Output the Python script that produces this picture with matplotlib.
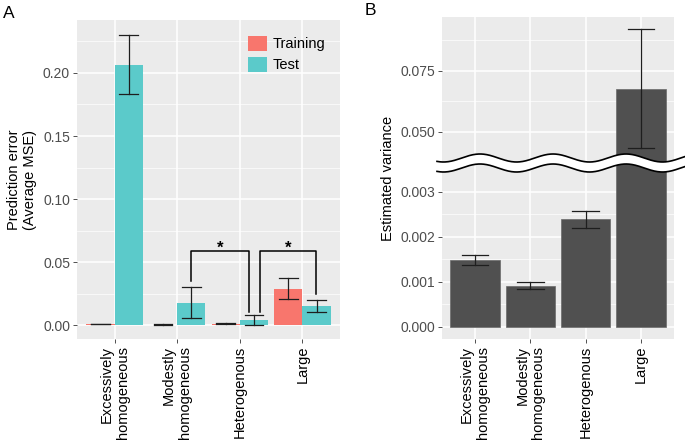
import numpy as np
import matplotlib
matplotlib.use("Agg")
import matplotlib.pyplot as plt
from matplotlib.patches import Patch
from matplotlib.lines import Line2D

plt.rcParams['font.family'] = ['Liberation Sans', 'DejaVu Sans']

CATS = ["Excessively\nhomogeneous", "Modestly\nhomogeneous", "Heterogenous", "Large"]

# panel A: prediction error
train_mse = [0.0009, 0.0005, 0.0012, 0.0287]
train_lo = [0.0007, 0.0004, 0.0010, 0.0206]
train_hi = [0.0011, 0.0006, 0.0014, 0.0373]
test_mse = [0.2063, 0.0175, 0.0040, 0.0150]
test_lo = [0.1836, 0.0053, 0.0005, 0.0103]
test_hi = [0.2300, 0.0304, 0.0082, 0.0200]

# significance brackets: x left/right, leg bottoms, top
brackets = [
    (1.225, 2.145, 0.035, 0.0105),
    (2.32, 3.21, 0.0105, 0.025),
]
bracket_top = 0.0587

# panel B: estimated variance
var_est = [0.00149, 0.00092, 0.00239, 0.0677]
var_lo = [0.00138, 0.00084, 0.00220, 0.0434]
var_hi = [0.00160, 0.00101, 0.00258, 0.0923]
b_ticks = [0.0, 0.001, 0.002, 0.003, 0.050, 0.075]
b_labels = ["0.000", "0.001", "0.002", "0.003", "0.050", "0.075"]
b_minor = [0.0005, 0.0015, 0.0025, 0.0625, 0.0875]

TRAIN_COL = '#F8766D'
TEST_COL = '#5BCACA'
BG = '#EBEBEB'
TICKC = '#4D4D4D'
ERRC = '#1e1e1e'

W, H = 685, 443
fig = plt.figure(figsize=(W / 100, H / 100), dpi=100)


def px_axes(x0, y0, x1, y1):
    return fig.add_axes([x0 / W, 1 - y1 / H, (x1 - x0) / W, (y1 - y0) / H])


def gg_style(ax):
    ax.set_facecolor(BG)
    for s in ax.spines.values():
        s.set_visible(False)
    ax.grid(True, which='major', color='white', lw=1.1)
    ax.grid(True, which='minor', axis='y', color='white', lw=0.5)
    ax.set_axisbelow(True)
    ax.tick_params(which='major', length=3, width=0.6, color='#333333',
                   labelcolor=TICKC, labelsize=10, pad=2)
    ax.tick_params(which='minor', length=0)
    ax.tick_params(axis='x', labelsize=10.5, labelcolor='black')


def errbars(ax, xs, lo, hi, cap):
    for x, l, h in zip(xs, lo, hi):
        ax.plot([x, x], [l, h], color=ERRC, lw=0.9, zorder=4)
        ax.plot([x - cap / 2, x + cap / 2], [l, l], color=ERRC, lw=0.9, zorder=4)
        ax.plot([x - cap / 2, x + cap / 2], [h, h], color=ERRC, lw=0.9, zorder=4)


x = np.arange(len(CATS))

# ---- panel A ----
axA = px_axes(77, 20, 340, 339)
gg_style(axA)
axA.bar(x - 0.225, train_mse, width=0.45, color=TRAIN_COL, zorder=3)
axA.bar(x + 0.225, test_mse, width=0.45, color=TEST_COL, zorder=3)
errbars(axA, x - 0.225, train_lo, train_hi, 0.3)
errbars(axA, x + 0.225, test_lo, test_hi, 0.3)
for xl, xr, yl, yr in brackets:
    axA.plot([xl, xl, xr, xr], [yl, bracket_top, bracket_top, yr], color='black', lw=1.1, zorder=5)
    axA.text((xl + xr) / 2, bracket_top + 0.0022, "*", ha='center', va='center',
             fontsize=12, fontweight='bold', zorder=5)
axA.set_xlim(-0.6, 3.6)
axA.set_ylim(-0.011, 0.242)
axA.set_yticks([0, 0.05, 0.10, 0.15, 0.20])
axA.set_yticklabels(["0.00", "0.05", "0.10", "0.15", "0.20"])
axA.set_yticks(np.arange(0.025, 0.24, 0.05), minor=True)
axA.set_xticks(x)
axA.set_xticklabels(CATS, rotation=90, ha='center', va='top', multialignment='right')
axA.set_ylabel("Prediction error\n(Average MSE)", fontsize=10.5, labelpad=4)
handles = [Patch(facecolor=TRAIN_COL, label='Training'), Patch(facecolor=TEST_COL, label='Test')]
axA.legend(handles=handles, loc='upper left', bbox_to_anchor=(0.65, 0.95), frameon=False,
           fontsize=10.5, handlelength=1.3, handleheight=1.16, labelspacing=0.4,
           handletextpad=0.4, borderpad=0, borderaxespad=0)
fig.text(3 / W, 1 - 18 / H, "A", fontsize=12.5)

# ---- panel B (broken y axis) ----
lo_top, hi_bot = 0.0035, 0.041
up_k = 2440 / 45.0
up_off = 195 / 45.0
vpts = np.array([-1.0, lo_top, hi_bot, 1.0])
tpts = np.array([-1000.0, lo_top * 1000, up_off + (hi_bot - 0.05) * up_k, up_off + (1.0 - 0.05) * up_k])


def fwd(v):
    return np.interp(v, vpts, tpts)


def inv(t):
    return np.interp(t, tpts, vpts)


axB = px_axes(442, 17, 674, 339)
axB.set_yscale('function', functions=(fwd, inv))
gg_style(axB)
axB.bar(x, var_est, width=0.9, color='#505050', edgecolor='#6a6a6a', lw=0.5, zorder=3)
errbars(axB, x, var_lo, var_hi, 0.48)
axB.set_xlim(-0.6, 3.6)
axB.set_ylim(-0.000267, 0.0971)
axB.set_yticks(b_ticks)
axB.set_yticklabels(b_labels)
axB.set_yticks(b_minor, minor=True)
axB.set_xticks(x)
axB.set_xticklabels(CATS, rotation=90, ha='center', va='top', multialignment='right')
axB.set_ylabel("Estimated variance", fontsize=10.5, labelpad=4)
fig.text(365 / W, 1 - 15 / H, "B", fontsize=12.5)

# wavy break
wx = np.linspace(437, 685, 400)
wtop = 158 - 4 * np.cos(2 * np.pi * (wx - 480) / 73)
wbot = wtop + 10
fx = wx / W
fig.add_artist(plt.Polygon(np.column_stack([np.r_[fx, fx[::-1]], 1 - np.r_[wtop, wbot[::-1]] / H]),
                           closed=True, facecolor='white', edgecolor='none',
                           transform=fig.transFigure, zorder=10))
for wy in (wtop, wbot):
    fig.add_artist(Line2D(fx, 1 - wy / H, color='black', lw=1.2, transform=fig.transFigure, zorder=11))

fig.savefig("out.png", dpi=100)
